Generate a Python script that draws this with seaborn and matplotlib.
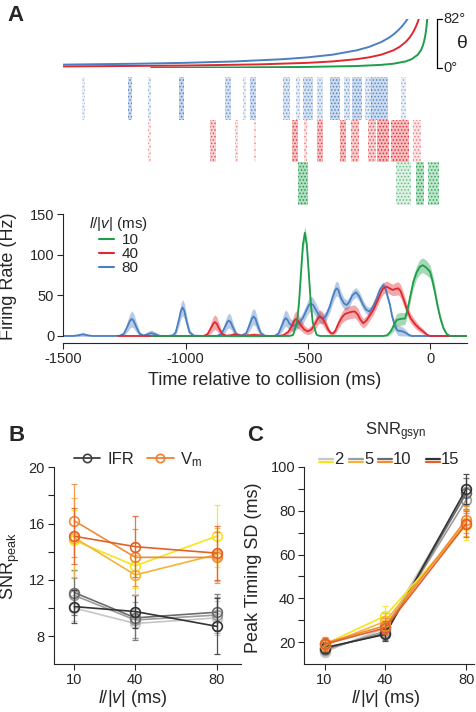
import numpy as np
import seaborn as sns
import matplotlib.pyplot as plt
from matplotlib.lines import Line2D
from matplotlib.colors import to_rgba

sns.set_style('ticks')
plt.rcParams['font.family'] = ['Liberation Sans', 'DejaVu Sans']
plt.rcParams['mathtext.fontset'] = 'custom'
plt.rcParams['mathtext.rm'] = 'Liberation Sans'
plt.rcParams['mathtext.it'] = 'Liberation Sans:italic'
plt.rcParams['mathtext.bf'] = 'Liberation Sans:bold'
plt.rcParams['axes.unicode_minus'] = False
plt.rcParams['hatch.linewidth'] = 0.7

# ---- panel A: looming angle (deg) vs time (ms) ----
theta80_t = [-1500, -1200, -1000, -800, -600, -500, -400, -300, -250, -200, -170, -150, -130, -115, -100, -92]
theta80_v = [6.1, 7.6, 9.1, 11.4, 15.2, 18.2, 22.6, 29.9, 35.5, 43.6, 50.4, 56.1, 63.2, 69.7, 77.3, 82.0]
theta40_t = [-1500, -1000, -700, -500, -400, -300, -250, -200, -150, -125, -100, -85, -75, -65, -57.5, -50, -46]
theta40_v = [3.1, 4.6, 6.5, 9.1, 11.4, 15.2, 18.2, 22.6, 29.9, 35.5, 43.6, 50.4, 56.1, 63.2, 69.7, 77.3, 82.0]
theta10_t = [-1140, -800, -500, -300, -200, -150, -100, -75, -50, -37.5, -30, -25, -20, -17, -15, -13, -11.5]
theta10_v = [1.0, 1.4, 2.3, 3.8, 5.7, 7.6, 11.4, 15.2, 22.6, 29.9, 36.9, 43.6, 53.1, 60.9, 67.4, 75.1, 82.0]

# ---- raster bands: centre (ms), width (ms), density ----
ras80_t = [-1418, -1227, -1146, -1016, -825, -757, -723, -586, -539, -498, -450, -389, -341, -300, -252, -205, -109]
ras80_w = [12, 20, 12, 20, 25, 12, 25, 28, 16, 40, 25, 40, 25, 40, 32, 70, 20]
ras80_d = [0.15, 0.8, 0.25, 0.9, 0.6, 0.2, 0.7, 0.55, 0.3, 0.6, 0.4, 0.85, 0.45, 0.75, 0.4, 0.8, 0.25]
ras40_t = [-1146, -887, -791, -716, -552, -511, -450, -355, -307, -239, -191, -123, -55]
ras40_w = [12, 25, 12, 12, 25, 12, 25, 25, 33, 33, 50, 70, 33]
ras40_d = [0.1, 0.55, 0.2, 0.15, 0.8, 0.25, 0.8, 0.8, 0.6, 0.55, 0.9, 0.85, 0.25]
ras10_t = [-518, -109, -41, 14]
ras10_w = [40, 60, 36, 48]
ras10_d = [1.0, 0.35, 0.9, 0.8]

# ---- firing rate (Hz) and s.e.m. ----
fr80_t = [-1500, -1460, -1440, -1420, -1400, -1380, -1290, -1270, -1252, -1236,
          -1228, -1220, -1212, -1204, -1188, -1172, -1155, -1140, -1125, -1105,
          -1070, -1050, -1040, -1026, -1019, -1012, -1005, -998, -984, -966,
          -920, -870, -853, -838, -830, -823, -815, -808, -793, -772,
          -752, -737, -729, -722, -714, -707, -692, -675, -650, -635,
          -620, -605, -597, -590, -582, -575, -565, -550, -535, -520,
          -505, -495, -488, -478, -465, -450, -438, -425, -410, -398,
          -388, -382, -375, -365, -352, -341, -330, -318, -303, -290,
          -275, -262, -248, -235, -220, -205, -191, -182, -175, -164,
          -155, -143, -132, -116, -100, -88, -75, 150]
fr80_r = [0, 0, 0.8, 2, 0.8, 0, 0, 0.2, 2.8, 12.7,
          18.5, 21, 18.5, 12.7, 2.8, 0.6, 2.2, 3.5, 2.2, 0.2,
          0, 1.0, 4.7, 21.2, 30.9, 35, 30.9, 21.2, 4.7, 0.4,
          0, 0.2, 2.6, 11.5, 16.8, 19, 16.8, 11.5, 2.6, 0.5,
          3.2, 14.6, 21.2, 24, 21.2, 14.6, 3.2, 0.3, 0, 0.3,
          3, 13.4, 19.4, 22, 19.4, 15, 13, 13, 16, 22,
          32, 38, 40, 38, 31, 23, 21, 25, 36, 48,
          56, 58.6, 56.5, 47, 40, 38, 42, 50, 53.7, 49,
          39, 32.5, 30, 35, 45, 57, 62.7, 58, 50, 38,
          24, 11.5, 6.5, 6, 4, 1.5, 0, 0]
fr80_e = [0.5, 0.5, 1.5, 2.5, 1.5, 0.5, 0.3, 0.5, 2.5, 7,
          9, 10, 9, 7, 2.5, 1, 3, 4, 3, 0.8,
          0.3, 1, 3.5, 8, 9.5, 10, 9.5, 8, 3.5, 0.8,
          0.3, 0.5, 2.5, 7, 8.5, 9, 8.5, 7, 2.5, 0.8,
          3, 8, 9.5, 10, 9.5, 8, 3, 0.8, 0.3, 0.8,
          3, 8, 9.5, 10, 9.5, 8, 7, 6, 6, 7,
          8, 9, 9, 9, 8, 7, 6, 6, 7, 8,
          9, 9, 9, 8, 7, 6, 6, 6, 6, 6,
          6, 5, 5, 5, 5, 4, 4, 4, 4, 4,
          4, 5, 6, 6, 4, 2, 0.8, 0.3]

fr40_t = [-1275, -940, -925, -910, -895, -887, -880, -872, -865, -850,
          -832, -815, -800, -785, -765, -740, -720, -700, -680, -620,
          -600, -580, -564, -556, -548, -540, -530, -515, -500, -485,
          -470, -458, -450, -440, -428, -415, -405, -398, -388, -375,
          -360, -348, -330, -315, -307, -295, -285, -273, -260, -245,
          -232, -215, -200, -191, -177, -165, -153, -140, -130, -120,
          -108, -96, -80, -61, -45, -27, -12, 0, 150]
fr40_r = [0, 0, 0.2, 2.3, 10.3, 15, 17, 15, 10.3, 2.3,
          0.3, 0.8, 1.8, 0.8, 0.3, 0.8, 1.3, 0.8, 0, 0,
          1, 5, 13, 18.5, 21, 18.5, 14, 8, 5.5, 8,
          15, 22, 24, 22, 15, 7, 3.5, 3, 6, 15,
          23, 27, 29, 30, 30, 26, 20, 15.6, 19, 26,
          32, 43, 54, 58.6, 60.6, 58.5, 56.6, 58, 58.6, 55,
          45, 34, 22, 14.4, 9.5, 5.3, 1.5, 0, 0]
fr40_e = [0.3, 0.3, 0.5, 2.5, 7, 8.5, 9, 8.5, 7, 2.5,
          1, 2, 3, 2, 1, 2, 2.5, 2, 0.5, 0.3,
          1, 3, 7, 9, 10, 9, 7, 5, 4, 5,
          7, 8, 8, 8, 7, 4, 2, 2, 3, 6,
          7, 8, 8, 8, 8, 8, 7, 6, 6, 6,
          6, 6, 7, 7, 7, 7, 7, 8, 8, 8,
          8, 7, 6, 5, 4, 3, 1.5, 0.5, 0.3]

fr10_t = [-1140, -575, -560, -544, -536, -528, -520, -512, -504, -496,
          -488, -480, -464, -450, -190, -175, -160, -148, -136, -120,
          -102, -90, -80, -68, -55, -42, -30, -15, 0, 10,
          20, 30, 42, 55, 68, 82, 150]
fr10_r = [0, 0, 1.4, 17, 41, 77, 112, 127, 112, 77,
          41, 17, 1.4, 0, 0, 1, 6, 13, 19.7, 21,
          21.5, 35, 50, 66.8, 78, 85, 87, 84, 79, 68,
          54, 38, 22, 9.4, 2.5, 0, 0]
fr10_e = [0.3, 0.3, 1, 4, 6, 8, 8, 8, 8, 8,
          6, 4, 1, 0.3, 0.3, 1.5, 4, 7, 8, 8,
          7, 7, 7, 8, 8, 9, 9, 9, 8, 8,
          7, 6, 5, 3, 1.5, 0.5, 0.3]

lv_labels = ['10', '40', '80']

# ---- panels B, C ----
lv = [10, 40, 80]
snr_levels = ['2', '5', '10', '15']
b_ifr_mean = [[10.0, 8.9, 9.3], [10.9, 9.15, 9.5], [11.1, 9.3, 9.7], [10.1, 9.75, 8.7]]
b_ifr_err = [[0.9, 1.0, 1.2], [1.2, 1.3, 1.3], [1.6, 1.6, 1.3], [1.15, 1.2, 2.0]]
b_vm_mean = [[14.8, 13.0, 15.1], [15.0, 12.35, 13.8], [16.2, 13.6, 13.6], [15.1, 14.36, 13.9]]
b_vm_err = [[2.2, 1.6, 2.2], [2.8, 1.4, 1.9], [2.6, 2.0, 1.8], [2.0, 2.15, 1.9]]

c_ifr_mean = [[15.5, 26.5, 88.5], [16.5, 25.0, 85.0], [17.0, 24.0, 88.0], [17.5, 23.5, 90.0]]
c_ifr_err = [[2.0, 3.0, 6.5], [2.0, 3.0, 6.0], [2.5, 3.0, 7.0], [2.5, 3.0, 7.0]]
c_vm_mean = [[19.0, 32.0, 73.5], [18.5, 29.5, 74.5], [19.5, 27.5, 76.0], [19.0, 26.5, 74.0]]
c_vm_err = [[2.5, 4.5, 7.0], [2.5, 4.0, 6.0], [3.0, 3.5, 6.0], [3.0, 3.0, 6.0]]

GREEN, RED, BLUE = '#1E9E4A', '#E0282F', '#4B7FC1'
gray_cols = ['#C6C6C6', '#9C9C9C', '#6C6C6C', '#333333']
orange_cols = ['#F7E41C', '#F4B43A', '#F08C35', '#E2602A']

W, H = 476, 712
fig = plt.figure(figsize=(W / 100, H / 100), dpi=100)


def box(l, t, r, b):
    return [l / W, 1 - b / H, (r - l) / W, (b - t) / H]


XL = (-1500, 150)

# theta curves
ax_th = fig.add_axes(box(63.3, 19, 466.7, 68.3))
for t, v, c in [(theta10_t, theta10_v, GREEN), (theta40_t, theta40_v, RED), (theta80_t, theta80_v, BLUE)]:
    sns.lineplot(x=t, y=v, color=c, lw=1.4, ax=ax_th)
ax_th.set_xlim(*XL)
ax_th.set_ylim(0, 82)
ax_th.axis('off')
ax_th.plot([49, 29, 29, 49], [82, 82, 0, 0], color='k', lw=0.9, clip_on=False)
ax_th.text(55, 82, '82°', fontsize=10.5, va='center', ha='left')
ax_th.text(55, 0, '0°', fontsize=10.5, va='center', ha='left')
ax_th.text(112, 41, 'θ', fontsize=14, va='center', ha='left')

# raster (bands of spikes drawn as dotted blocks)
ax_ras = fig.add_axes(box(63.3, 77, 466.7, 205))
for row, (bt, bw, bd, c) in enumerate([(ras80_t, ras80_w, ras80_d, BLUE),
                                         (ras40_t, ras40_w, ras40_d, RED),
                                         (ras10_t, ras10_w, ras10_d, GREEN)]):
    for t, w, d in zip(bt, bw, bd):
        ax_ras.bar(t, 1, width=w, bottom=row, color=to_rgba(c, 0.04 + 0.3 * d),
                   edgecolor=to_rgba(c, 0.35 + 0.65 * d), hatch='.....', linewidth=0)
ax_ras.set_xlim(*XL)
ax_ras.set_ylim(3, 0)
ax_ras.axis('off')

# firing rate
ax_fr = fig.add_axes(box(63.3, 214, 466.7, 338.4))
for t, r, e, c in [(fr80_t, fr80_r, fr80_e, BLUE), (fr40_t, fr40_r, fr40_e, RED), (fr10_t, fr10_r, fr10_e, GREEN)]:
    r = np.array(r)
    e = np.array(e)
    ax_fr.fill_between(t, r - e, r + e, color=c, alpha=0.4, lw=0)
    sns.lineplot(x=t, y=r, color=c, lw=1.3, ax=ax_fr)
ax_fr.set_xlim(*XL)
ax_fr.set_ylim(-3, 150)
ax_fr.set_yticks([0, 50, 100, 150])
ax_fr.set_xticks([-1500, -1000, -500, 0])
sns.despine(ax=ax_fr)
ax_fr.spines['bottom'].set_position(('outward', 3.5))
ax_fr.spines['left'].set_bounds(0, 150)
ax_fr.tick_params(labelsize=10.5, length=4.5, width=0.8, pad=2)
ax_fr.set_ylabel('Firing Rate (Hz)', fontsize=13)
ax_fr.set_xlabel('Time relative to collision (ms)', fontsize=13)
ax_fr.yaxis.set_label_coords(-0.115, 0.5)
ax_fr.xaxis.set_label_coords(0.5, -0.27)
handles = [Line2D([], [], color=c, lw=1.5) for c in (GREEN, RED, BLUE)]
ax_fr.legend(handles, lv_labels, title=r'$l/|v|$ (ms)', loc='upper left',
             bbox_to_anchor=(0.045, 1.05), frameon=False, fontsize=11,
             title_fontsize=11, labelspacing=0.0, handlelength=1.0,
             handletextpad=0.5, borderpad=0, alignment='center')


def snr_panel(ax, ifr_m, ifr_e, vm_m, vm_e):
    for means, errs, cols in [(ifr_m, ifr_e, gray_cols), (vm_m, vm_e, orange_cols)]:
        for m, e, c in zip(means, errs, cols):
            ax.errorbar(lv, m, yerr=e, fmt='none', ecolor=c, elinewidth=0.9,
                        capsize=2, capthick=0.9, alpha=0.85)
            sns.lineplot(x=lv, y=m, color=c, lw=1.2, marker='o', ms=7,
                         mfc='none', mec=c, mew=1.2, ax=ax)
    sns.despine(ax=ax)
    ax.set_xticks(lv)
    ax.tick_params(which='both', labelsize=10.5, length=4.5, width=0.8, pad=2)
    ax.set_xlabel(r'$l/|v|$ (ms)', fontsize=13)


# panel B
ax_b = fig.add_axes(box(54, 467.3, 241, 664.3))
snr_panel(ax_b, b_ifr_mean, b_ifr_err, b_vm_mean, b_vm_err)
ax_b.set_xlim(0, 92)
ax_b.set_ylim(6, 20)
ax_b.set_yticks([8, 12, 16, 20])
ax_b.set_yticks([10, 14, 18], minor=True)
ax_b.set_ylabel(r'SNR$_{\mathrm{peak}}$', fontsize=13)
ax_b.yaxis.set_label_coords(-0.17, 0.5)
ax_b.xaxis.set_label_coords(0.42, -0.12)
leg_h = [Line2D([], [], color='#404040', lw=1.3, marker='o', ms=6, mfc='none', mew=1.2),
         Line2D([], [], color='#F08030', lw=1.3, marker='o', ms=6, mfc='none', mew=1.2)]
ax_b.legend(leg_h, ['IFR', r'V$_{\mathrm{m}}$'], loc='center', ncol=2,
            bbox_to_anchor=(0.45, 1.04), frameon=False, fontsize=12,
            handlelength=1.6, handletextpad=0.4, columnspacing=0.8, borderpad=0)

# panel C
ax_c = fig.add_axes(box(304.3, 467, 474.3, 664))
snr_panel(ax_c, c_ifr_mean, c_ifr_err, c_vm_mean, c_vm_err)
ax_c.set_xlim(0, 84)
ax_c.set_ylim(10, 100)
ax_c.set_yticks([20, 40, 60, 80, 100])
ax_c.set_yticks([30, 50, 70, 90], minor=True)
ax_c.set_ylabel('Peak Timing SD (ms)', fontsize=13)
ax_c.yaxis.set_label_coords(-0.25, 0.49)
ax_c.xaxis.set_label_coords(0.48, -0.12)

# panel C legend: two-colour handles
fig.text(396 / W, 1 - 432 / H, r'SNR$_{\mathrm{gsyn}}$', fontsize=12, ha='center', va='center')
hx = [319, 349, 378, 426]
for x0, lab, g, o in zip(hx, snr_levels, gray_cols, orange_cols):
    fig.add_artist(Line2D([x0 / W, (x0 + 14) / W], [1 - 458.5 / H] * 2, color=g, lw=1.6))
    fig.add_artist(Line2D([x0 / W, (x0 + 14) / W], [1 - 461.5 / H] * 2, color=o, lw=1.6))
    fig.text((x0 + 15) / W, 1 - 460 / H, lab, fontsize=12, ha='left', va='center')

# panel letters
fig.text(7 / W, 1 - 21 / H, 'A', fontsize=16, fontweight='bold', va='baseline')
fig.text(8 / W, 1 - 441.5 / H, 'B', fontsize=16, fontweight='bold', va='baseline')
fig.text(247.5 / W, 1 - 441.5 / H, 'C', fontsize=16, fontweight='bold', va='baseline')

fig.savefig('out.png', dpi=100)
